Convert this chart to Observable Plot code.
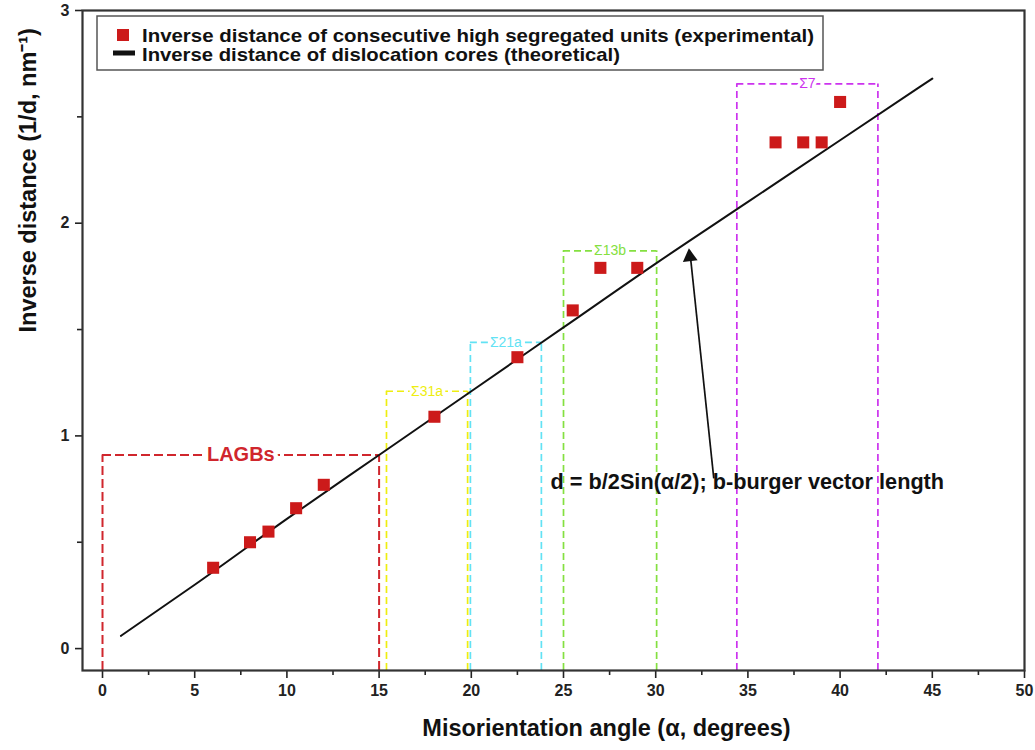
<!DOCTYPE html>
<html>
<head>
<meta charset="utf-8">
<script src="https://cdn.jsdelivr.net/npm/d3@7"></script>
<script src="https://cdn.jsdelivr.net/npm/@observablehq/plot@0.6"></script>
<style>
  html, body { margin: 0; padding: 0; background: #fff; }
  #chart { position: relative; width: 1035px; height: 750px; }
</style>
</head>
<body>
<div id="chart"></div>
<script>
// Experimental points (red squares)
const angles = [6, 8, 9, 10.5, 12, 18, 22.5, 25.5, 27, 29, 36.5, 38, 39, 40];
const invDist = [0.38, 0.50, 0.55, 0.66, 0.77, 1.09, 1.37, 1.59, 1.79, 1.79, 2.38, 2.38, 2.38, 2.57];

// Theoretical curve
const theoryAngles = [1, 5, 10, 15, 20, 25, 30, 35, 40, 45];
const theoryValues = [0.06, 0.30, 0.61, 0.91, 1.21, 1.51, 1.81, 2.10, 2.39, 2.68];

// Dashed boxes
const boxLabels = ["LAGBs", "Σ31a", "Σ21a", "Σ13b", "Σ7"];
const boxX1 = [0, 15.4, 19.95, 25, 34.4];
const boxX2 = [15, 19.8, 23.8, 30.05, 42.05];
const boxTop = [0.91, 1.21, 1.44, 1.87, 2.655];
const boxColors = ["#d0262d", "#eeee10", "#62e2f4", "#84e040", "#cc33ee"];

// Axis ticks
const xMajor = [0, 5, 10, 15, 20, 25, 30, 35, 40, 45, 50];
const xMinor = [2.5, 7.5, 12.5, 17.5, 22.5, 27.5, 32.5, 37.5, 42.5, 47.5];
const yMajor = [0, 1, 2, 3];
const yMinor = [0.5, 1.5, 2.5];

// Annotation
const noteText = ["d = b/2Sin(α/2); b-burger vector length"];
const noteX = [24.3];
const noteY = [0.785];
const arrowFrom = [[33.15, 0.80]];
const arrowTo = [[31.85, 1.87]];

const legendLabels = [
  "Inverse distance of consecutive high segregated units (experimental)",
  "Inverse distance of dislocation cores (theoretical)"
];

const xLabel = "Misorientation angle (α, degrees)";
const yLabel = "Inverse distance (1/d, nm⁻¹)";

const FONT = "'Liberation Sans', Arial, sans-serif";
const YMIN = -0.103;

const points = angles.map((a, i) => ({x: a, y: invDist[i]}));
const theory = theoryAngles.map((a, i) => ({x: a, y: theoryValues[i]}));
const boxes = boxLabels.map((l, i) => ({
  label: l, x1: boxX1[i], x2: boxX2[i], top: boxTop[i], color: boxColors[i],
  cx: (boxX1[i] + boxX2[i]) / 2
}));
const boxSides = boxes.flatMap(b => [{x: b.x1, top: b.top, color: b.color, label: b.label}, {x: b.x2, top: b.top, color: b.color, label: b.label}]);
const arrows = arrowFrom.map((f, i) => ({x1: f[0], y1: f[1], x2: arrowTo[i][0], y2: arrowTo[i][1]}));
const notes = noteText.map((t, i) => ({t, x: noteX[i], y: noteY[i]}));

const isL = d => d.label === "LAGBs";
const notL = d => d.label !== "LAGBs";

const plot = Plot.plot({
  width: 1035,
  height: 750,
  marginLeft: 82,
  marginRight: 11,
  marginTop: 10,
  marginBottom: 80,
  style: {fontFamily: FONT, fontSize: "16px", fontWeight: "bold", color: "#222", background: "#fff"},
  x: {domain: [-1.085, 50]},
  y: {domain: [YMIN, 3]},
  color: {type: "identity"},
  marks: [
    // dashed boxes (sides + top, bottom hidden by the axis)
    Plot.ruleX(boxSides.filter(isL), {x: "x", y1: () => YMIN, y2: "top", stroke: "color", strokeWidth: 2, strokeDasharray: "9,4"}),
    Plot.ruleY(boxes.filter(isL), {y: "top", x1: "x1", x2: "x2", stroke: "color", strokeWidth: 2, strokeDasharray: "9,4"}),
    Plot.ruleX(boxSides.filter(notL), {x: "x", y1: () => YMIN, y2: "top", stroke: "color", strokeWidth: 1.7, strokeDasharray: "7,4"}),
    Plot.ruleY(boxes.filter(notL), {y: "top", x1: "x1", x2: "x2", stroke: "color", strokeWidth: 1.7, strokeDasharray: "7,4"}),
    // box labels
    Plot.text(boxes.filter(isL), {
      x: "cx", y: "top", text: "label", fill: "color",
      stroke: "white", strokeWidth: 9, paintOrder: "stroke",
      fontSize: 20, fontWeight: "bold"
    }),
    Plot.text(boxes.filter(notL), {
      x: "cx", y: "top", text: "label", fill: "color",
      stroke: "white", strokeWidth: 7, paintOrder: "stroke",
      fontSize: 14, fontWeight: "normal"
    }),
    // theoretical line
    Plot.line(theory, {x: "x", y: "y", stroke: "#111", strokeWidth: 2, curve: "monotone-x"}),
    // experimental points
    Plot.dot(points, {x: "x", y: "y", symbol: "square", r: 6.8, fill: "#cc1a1a", stroke: "none"}),
    // annotation arrow
    Plot.link(arrows, {x1: "x1", y1: "y1", x2: "x2", y2: "y2", stroke: "#111", strokeWidth: 1.7}),
    Plot.dot(arrows, {x: "x2", y: "y2", symbol: "triangle", r: 5.5, rotate: -6, dy: 6, fill: "#111", stroke: "none"}),
    Plot.text(notes, {
      x: "x", y: "y", text: "t", textAnchor: "start",
      fontSize: 21.7, fontWeight: "bold", fill: "#111"
    }),
    // axes
    Plot.axisX(xMajor, {tickSize: 8, tickPadding: 6, tickFormat: d => String(d), fontSize: 16, fontWeight: "bold", strokeWidth: 1.6, label: null}),
    Plot.axisX(xMinor, {tickSize: 5, tickFormat: () => "", strokeWidth: 1.6, label: null}),
    Plot.axisY(yMajor, {tickSize: 7, tickPadding: 6, tickFormat: d => String(d), fontSize: 16, fontWeight: "bold", strokeWidth: 1.6, label: null}),
    Plot.axisY(yMinor, {tickSize: 5, tickFormat: () => "", strokeWidth: 1.6, label: null}),
    Plot.frame({stroke: "#333", strokeWidth: 2.2}),
    // axis titles
    Plot.text([xLabel], {text: d => d, frameAnchor: "bottom", dx: 53, dy: 65, fontSize: 23.5, fontWeight: "bold", fill: "#111"}),
    Plot.text([yLabel], {text: d => d, frameAnchor: "left", rotate: -90, dx: -54, dy: -8, fontSize: 23.5, fontWeight: "bold", fill: "#111"})
  ]
});

document.getElementById("chart").appendChild(plot);

// Legend drawn inside the plot frame
const svg = d3.select(plot);
const lg = svg.append("g")
  .attr("font-family", FONT).attr("font-weight", "bold").attr("font-size", 19)
  .attr("text-anchor", "start");
lg.append("rect").attr("x", 97).attr("y", 16).attr("width", 726).attr("height", 54)
  .attr("fill", "white").attr("stroke", "#555").attr("stroke-width", 1.5);
lg.append("rect").attr("x", 117).attr("y", 29).attr("width", 12).attr("height", 12).attr("fill", "#cc1a1a");
lg.append("rect").attr("x", 113).attr("y", 50.5).attr("width", 22).attr("height", 5).attr("fill", "#111");
const legendWidths = [672, 478];
lg.selectAll("text.lt").data(legendLabels).join("text")
  .attr("class", "lt")
  .attr("x", 142).attr("y", (d, i) => 42 + i * 19)
  .attr("text-anchor", "start")
  .attr("textLength", (d, i) => legendWidths[i])
  .attr("lengthAdjust", "spacingAndGlyphs")
  .attr("fill", "#111")
  .text(d => d);
</script>
</body>
</html>
